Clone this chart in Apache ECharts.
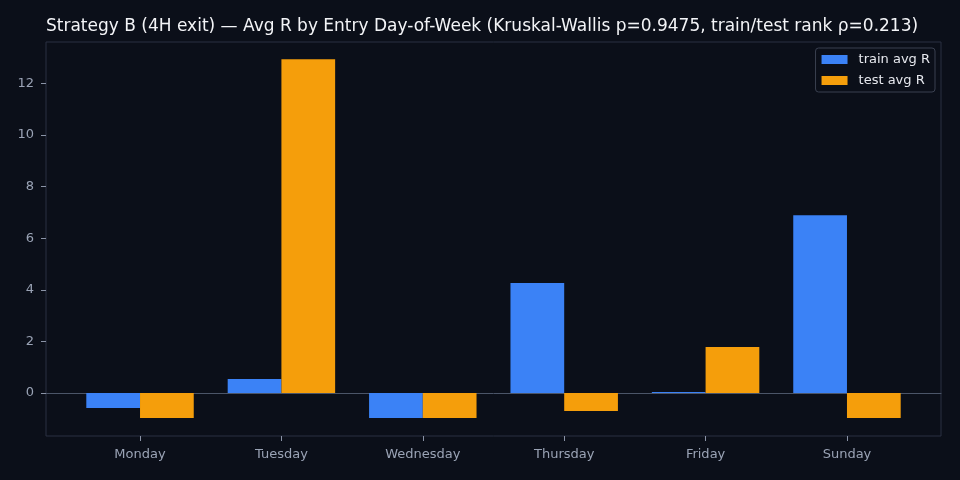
<!DOCTYPE html>
<html>
<head>
<meta charset="utf-8">
<script src="https://cdn.jsdelivr.net/npm/echarts@6/dist/echarts.min.js"></script>
<style>
html,body{margin:0;padding:0;background:#0b0f19;}
#chart{width:960px;height:480px;}
</style>
</head>
<body>
<div id="chart"></div>
<script>
const days = ['Monday', 'Tuesday', 'Wednesday', 'Thursday', 'Friday', 'Sunday'];
const trainAvgR = [-0.58, 0.54, -0.97, 4.26, 0.04, 6.89];
const testAvgR = [-0.97, 12.93, -0.97, -0.70, 1.78, -0.97];
const yTicks = [0, 2, 4, 6, 8, 10, 12];
const titleText = 'Strategy B (4H exit) \u2014 Avg R by Entry Day-of-Week (Kruskal-Wallis p=0.9475, train/test rank \u03c1=0.213)';

const chart = echarts.init(document.getElementById('chart'));
const FONT = "'DejaVu Sans'";
const BAR_W = 0.38;

function makeRender(offset) {
  return function (params, api) {
    const x = api.value(0) + offset;
    const v = api.value(1);
    const p1 = api.coord([x - BAR_W / 2, v]);
    const p2 = api.coord([x + BAR_W / 2, 0]);
    return {
      type: 'rect',
      shape: {
        x: p1[0],
        y: Math.min(p1[1], p2[1]),
        width: p2[0] - p1[0],
        height: Math.abs(p2[1] - p1[1])
      },
      style: api.style()
    };
  };
}

const xIdx = days.map((d, i) => i);

chart.setOption({
  backgroundColor: '#0b0f19',
  animation: false,
  title: {
    text: titleText,
    left: 41,
    top: 13,
    textStyle: { color: '#f3f4f7', fontFamily: FONT, fontSize: 17, fontWeight: 'normal' }
  },
  legend: {
    orient: 'vertical',
    right: 25,
    top: 48,
    padding: [5, 5, 5, 6],
    itemWidth: 26,
    itemHeight: 9,
    itemGap: 8,
    backgroundColor: '#0b0f19',
    borderColor: '#3a4050',
    borderWidth: 1,
    borderRadius: 3,
    icon: 'rect',
    textStyle: { color: '#e6e8ee', fontFamily: FONT, fontSize: 13, padding: [0, 0, 0, 6] },
    data: ['train avg R', 'test avg R']
  },
  grid: {
    left: 46, right: 19, top: 42, bottom: 44,
    show: true, borderColor: '#2a3142', borderWidth: 1, backgroundColor: 'transparent'
  },
  xAxis: [{
    type: 'value',
    min: -0.665,
    max: 5.665,
    position: 'bottom',
    axisLine: { show: false, onZero: false },
    splitLine: { show: false },
    axisTick: { show: true, customValues: xIdx, length: 5, inside: false, lineStyle: { color: '#8a93a6' } },
    axisLabel: {
      customValues: xIdx,
      formatter: v => days[Math.round(v)],
      color: '#9aa3b5', fontFamily: FONT, fontSize: 13, margin: 12
    }
  }, {
    type: 'value',
    min: -0.665,
    max: 5.665,
    position: 'bottom',
    axisLine: { show: true, onZero: true, lineStyle: { color: '#4b5568', width: 1 } },
    splitLine: { show: false },
    axisTick: { show: false },
    axisLabel: { show: false }
  }],
  yAxis: {
    type: 'value',
    min: -1.665,
    max: 13.6,
    position: 'left',
    axisLine: { show: false, onZero: false },
    splitLine: { show: false },
    axisTick: { show: true, customValues: yTicks, length: 5, inside: false, lineStyle: { color: '#8a93a6' } },
    axisLabel: {
      customValues: yTicks,
      color: '#9aa3b5', fontFamily: FONT, fontSize: 13, margin: 12
    }
  },
  series: [{
    name: 'train avg R',
    type: 'custom',
    xAxisIndex: 0,
    itemStyle: { color: '#3b82f6' },
    renderItem: makeRender(-BAR_W / 2),
    encode: { x: 0, y: 1 },
    data: trainAvgR.map((v, i) => [i, v])
  }, {
    name: 'test avg R',
    type: 'custom',
    xAxisIndex: 0,
    itemStyle: { color: '#f59e0b' },
    renderItem: makeRender(BAR_W / 2),
    encode: { x: 0, y: 1 },
    data: testAvgR.map((v, i) => [i, v])
  }]
});
</script>
</body>
</html>
